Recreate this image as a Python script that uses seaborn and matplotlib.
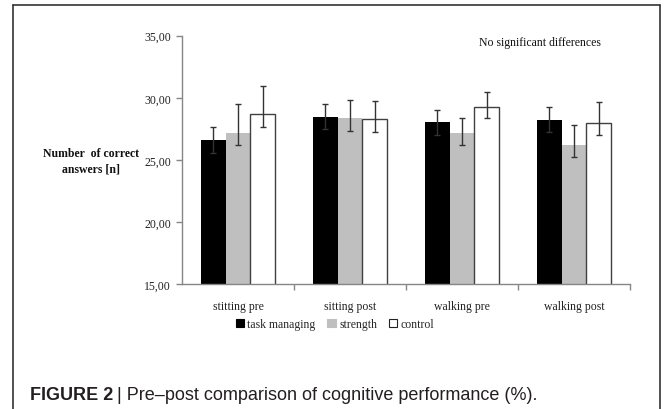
import pandas as pd
import seaborn as sns
import matplotlib.pyplot as plt
from matplotlib.ticker import FuncFormatter
from matplotlib.lines import Line2D

# values
conditions = ['stitting pre', 'sitting post', 'walking pre', 'walking post']
groups = ['task managing', 'strength', 'control']

task_managing = [26.62, 28.48, 28.02, 28.24]
strength = [27.14, 28.35, 27.14, 26.17]
control = [28.67, 28.32, 29.26, 28.00]

# error bar ends (upper / lower)
task_hi = [27.67, 29.47, 29.04, 29.26]
task_lo = [25.57, 27.49, 27.00, 27.22]
strength_hi = [29.50, 29.85, 28.40, 27.84]
strength_lo = [26.17, 27.35, 26.17, 25.20]
control_hi = [30.95, 29.77, 30.44, 29.69]
control_lo = [27.67, 27.27, 28.35, 26.98]

data = pd.DataFrame({
    'condition': conditions * 3,
    'group': [g for g in groups for _ in conditions],
    'value': task_managing + strength + control,
})
hi = [task_hi, strength_hi, control_hi]
lo = [task_lo, strength_lo, control_lo]

sns.set_style('white')
plt.rcParams['font.family'] = 'Liberation Serif'

fig = plt.figure(figsize=(6.72, 4.10), dpi=100)
ax = fig.add_axes([182 / 672, 1 - 285 / 410, (630 - 182) / 672, (285 - 36.7) / 410])

palette = {'task managing': 'black', 'strength': '#bfbfbf', 'control': 'white'}
sns.barplot(data=data, x='condition', y='value', hue='group', palette=palette,
            width=0.66, gap=0, errorbar=None, ax=ax, legend=False, saturation=1)

bar_groups = list(ax.containers)
for i, cont in enumerate(bar_groups):
    for j, bar in enumerate(cont):
        if groups[i] == 'control':
            bar.set_edgecolor('#404040')
            bar.set_linewidth(1.0)
        else:
            bar.set_linewidth(0)
        xc = bar.get_x() + bar.get_width() / 2
        v = bar.get_height()
        ax.errorbar(xc, v, yerr=[[v - lo[i][j]], [hi[i][j] - v]], fmt='none',
                    ecolor='#333333', elinewidth=1.0, capsize=2.2, capthick=1.0, zorder=5)

ax.set_ylim(15, 35)
ax.set_yticks([15, 20, 25, 30, 35])
ax.yaxis.set_major_formatter(FuncFormatter(lambda v, p: f'{v:.2f}'.replace('.', ',')))
ax.set_xlim(-0.5, 3.5)
ax.set_xlabel('')
ax.set_ylabel('')

sns.despine(ax=ax)
for s in ['left', 'bottom']:
    ax.spines[s].set_color('#868686')
    ax.spines[s].set_linewidth(1.0)

ax.tick_params(axis='y', left=True, length=4, width=1, color='#868686', pad=4,
               labelsize=8.5, labelcolor='#222222')
ax.tick_params(axis='x', bottom=False, pad=8, labelsize=8.5, labelcolor='#222222')
ax.set_xticks([0.5, 1.5, 2.5, 3.5], minor=True)
ax.tick_params(axis='x', which='minor', bottom=True, length=4, width=1, color='#868686')

# y label written horizontally, left of the axis
fig.text(91 / 672, 1 - 162 / 410, 'Number  of correct\nanswers [n]', ha='center', va='center',
         fontsize=8.5, fontweight='bold', color='#111111', linespacing=1.4)

fig.text(479 / 672, 1 - 43 / 410, 'No significant differences', ha='left', va='center',
         fontsize=8.5, color='#111111')

handles = [plt.Rectangle((0, 0), 1, 1, facecolor=palette[g],
                         edgecolor='#222222' if g == 'control' else palette[g], linewidth=0.8)
           for g in groups]
fig.legend(handles, groups, loc='center', bbox_to_anchor=(335 / 672, 1 - 325 / 410), ncol=3,
           frameon=False, fontsize=8.5, handlelength=0.7, handleheight=0.7,
           handletextpad=0.3, columnspacing=1.0)

# caption: bold label, then the plain text right after it
t1 = fig.text(30 / 672, 1 - 396 / 410, 'FIGURE 2', ha='left', va='center', fontsize=13,
              fontweight='bold', family='Liberation Sans', color='#231f20')
ax.annotate('| Pre\u2013post comparison of cognitive performance (%).', xy=(1, 0.5),
            xycoords=t1, xytext=(3, 0), textcoords='offset points', ha='left', va='center',
            fontsize=13, family='Liberation Sans', color='#231f20', annotation_clip=False)

# outer frame (open at the bottom)
frame = dict(color='#333333', lw=1.2)
fig.add_artist(Line2D([13 / 672, 13 / 672], [-0.02, 1 - 6 / 410], **frame))
fig.add_artist(Line2D([13 / 672, 660 / 672], [1 - 6 / 410, 1 - 6 / 410], **frame))
fig.add_artist(Line2D([660 / 672, 660 / 672], [-0.02, 1 - 6 / 410], **frame))

fig.savefig('out.png', dpi=100)
